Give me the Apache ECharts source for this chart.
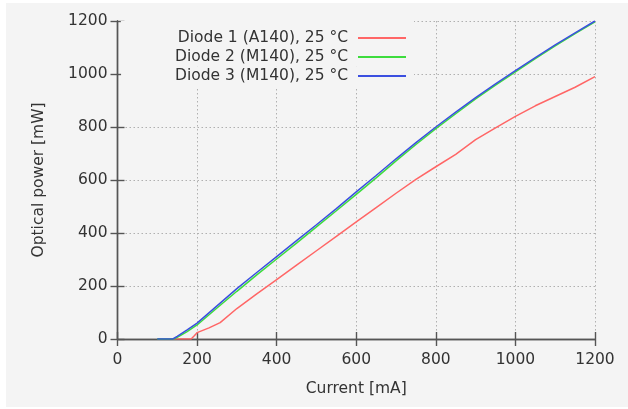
<!DOCTYPE html>
<html>
<head>
<meta charset="utf-8">
<script src="https://cdn.jsdelivr.net/npm/echarts@6/dist/echarts.min.js"></script>
<style>html,body{margin:0;padding:0;background:#fff}#c{width:628px;height:409px}</style>
</head>
<body>
<div id="c"></div>
<script>
const xTicks = [0, 200, 400, 600, 800, 1000, 1200];
const yTicks = [0, 200, 400, 600, 800, 1000, 1200];
const seriesNames = ['Diode 1 (A140), 25 °C', 'Diode 2 (M140), 25 °C', 'Diode 3 (M140), 25 °C'];
const diode1 = [[140,0],[185,0],[193,12],[200,24],[230,42],[258,62],[300,115],[350,170],[400,224],[450,279],[500,333],[550,387],[600,442],[650,496],[700,550],[750,602],[800,650],[850,697],[900,752],[950,797],[1000,840],[1050,880],[1100,915],[1150,950],[1200,990]];
const diode2 = [[100,0],[142,0],[150,6],[175,28],[200,53],[250,117],[300,180],[350,242],[400,302],[450,362],[500,423],[550,484],[600,546],[650,608],[700,672],[750,734],[800,794],[850,850],[900,906],[950,958],[1000,1008],[1050,1058],[1100,1106],[1150,1152],[1200,1197]];
const diode3 = [[100,0],[139,0],[150,10],[175,34],[200,60],[250,125],[300,190],[350,251],[400,311],[450,371],[500,431],[550,492],[600,555],[650,617],[700,680],[750,741],[800,800],[850,856],[900,911],[950,963],[1000,1013],[1050,1062],[1100,1110],[1150,1155],[1200,1200]];
const colors = ['#ff6666', '#3ddc3d', '#3b4fe0'];

const FONT = 'DejaVu Sans';
const TXT = '#333';
const chart = echarts.init(document.getElementById('c'), null, {renderer: 'canvas'});
const axisLine = {show: true, lineStyle: {color: '#555', width: 1.4}};
const axisTick = {show: true, inside: true, length: 7, lineStyle: {color: '#555', width: 1.4}};
const gridLine = {show: true, lineStyle: {color: '#b0b0b0', type: [1.5, 2.5], width: 1}};

function legend(i, top, padding) {
  return {
    data: [seriesNames[i]], orient: 'horizontal', align: 'right', right: 214, top: top,
    icon: 'rect', itemWidth: 48, itemHeight: 2, padding: padding,
    backgroundColor: '#f4f4f4',
    textStyle: {fontFamily: FONT, fontSize: 15.5, color: TXT, lineHeight: 19, padding: [0, 5, 0, 0]}
  };
}

chart.setOption({
  backgroundColor: '#f4f4f4',
  animation: false,
  graphic: [
    {type: 'rect', shape: {x: 0, y: 0, width: 628, height: 3}, style: {fill: '#fff'}, silent: true},
    {type: 'rect', shape: {x: 0, y: 0, width: 6, height: 409}, style: {fill: '#fff'}, silent: true},
    {type: 'rect', shape: {x: 0, y: 407, width: 628, height: 2}, style: {fill: '#fff'}, silent: true}
  ],
  grid: {left: 117.5, right: 33, top: 21, bottom: 70, containLabel: false},
  legend: [
    legend(0, 21, [7.5, 8, 0, 57]),
    legend(1, 47.5, [0, 8, 0, 54]),
    legend(2, 66.5, [0, 8, 2, 54])
  ],
  xAxis: [
    {type: 'value', min: 0, max: 1200, interval: 200, position: 'bottom',
     name: 'Current [mA]', nameLocation: 'middle', nameGap: 42,
     nameTextStyle: {fontFamily: FONT, fontSize: 15.5, color: TXT},
     axisLine: axisLine, axisTick: axisTick, splitLine: gridLine,
     axisLabel: {fontFamily: FONT, fontSize: 15.5, color: TXT, margin: 13,
       formatter: v => xTicks.includes(v) ? String(v) : ''}},
    {type: 'value', min: 0, max: 1200, interval: 200, position: 'top',
     axisLine: axisLine, axisTick: axisTick, splitLine: {show: false}, axisLabel: {show: false}}
  ],
  yAxis: [
    {type: 'value', min: 0, max: 1200, interval: 200, position: 'left',
     name: 'Optical power [mW]', nameLocation: 'middle', nameGap: 71, nameRotate: 90,
     nameTextStyle: {fontFamily: FONT, fontSize: 15.5, color: TXT},
     axisLine: axisLine, axisTick: axisTick, splitLine: gridLine,
     axisLabel: {fontFamily: FONT, fontSize: 15.5, color: TXT, margin: 10,
       formatter: v => yTicks.includes(v) ? String(v) : ''}},
    {type: 'value', min: 0, max: 1200, interval: 200, position: 'right',
     axisLine: axisLine, axisTick: axisTick, splitLine: {show: false}, axisLabel: {show: false}}
  ],
  series: [diode1, diode2, diode3].map((d, i) => ({
    name: seriesNames[i], type: 'line', data: d, showSymbol: false, symbol: 'none',
    smooth: false, color: colors[i], lineStyle: {width: 1.5, color: colors[i]}, z: 2 + i
  }))
});
</script>
</body>
</html>
